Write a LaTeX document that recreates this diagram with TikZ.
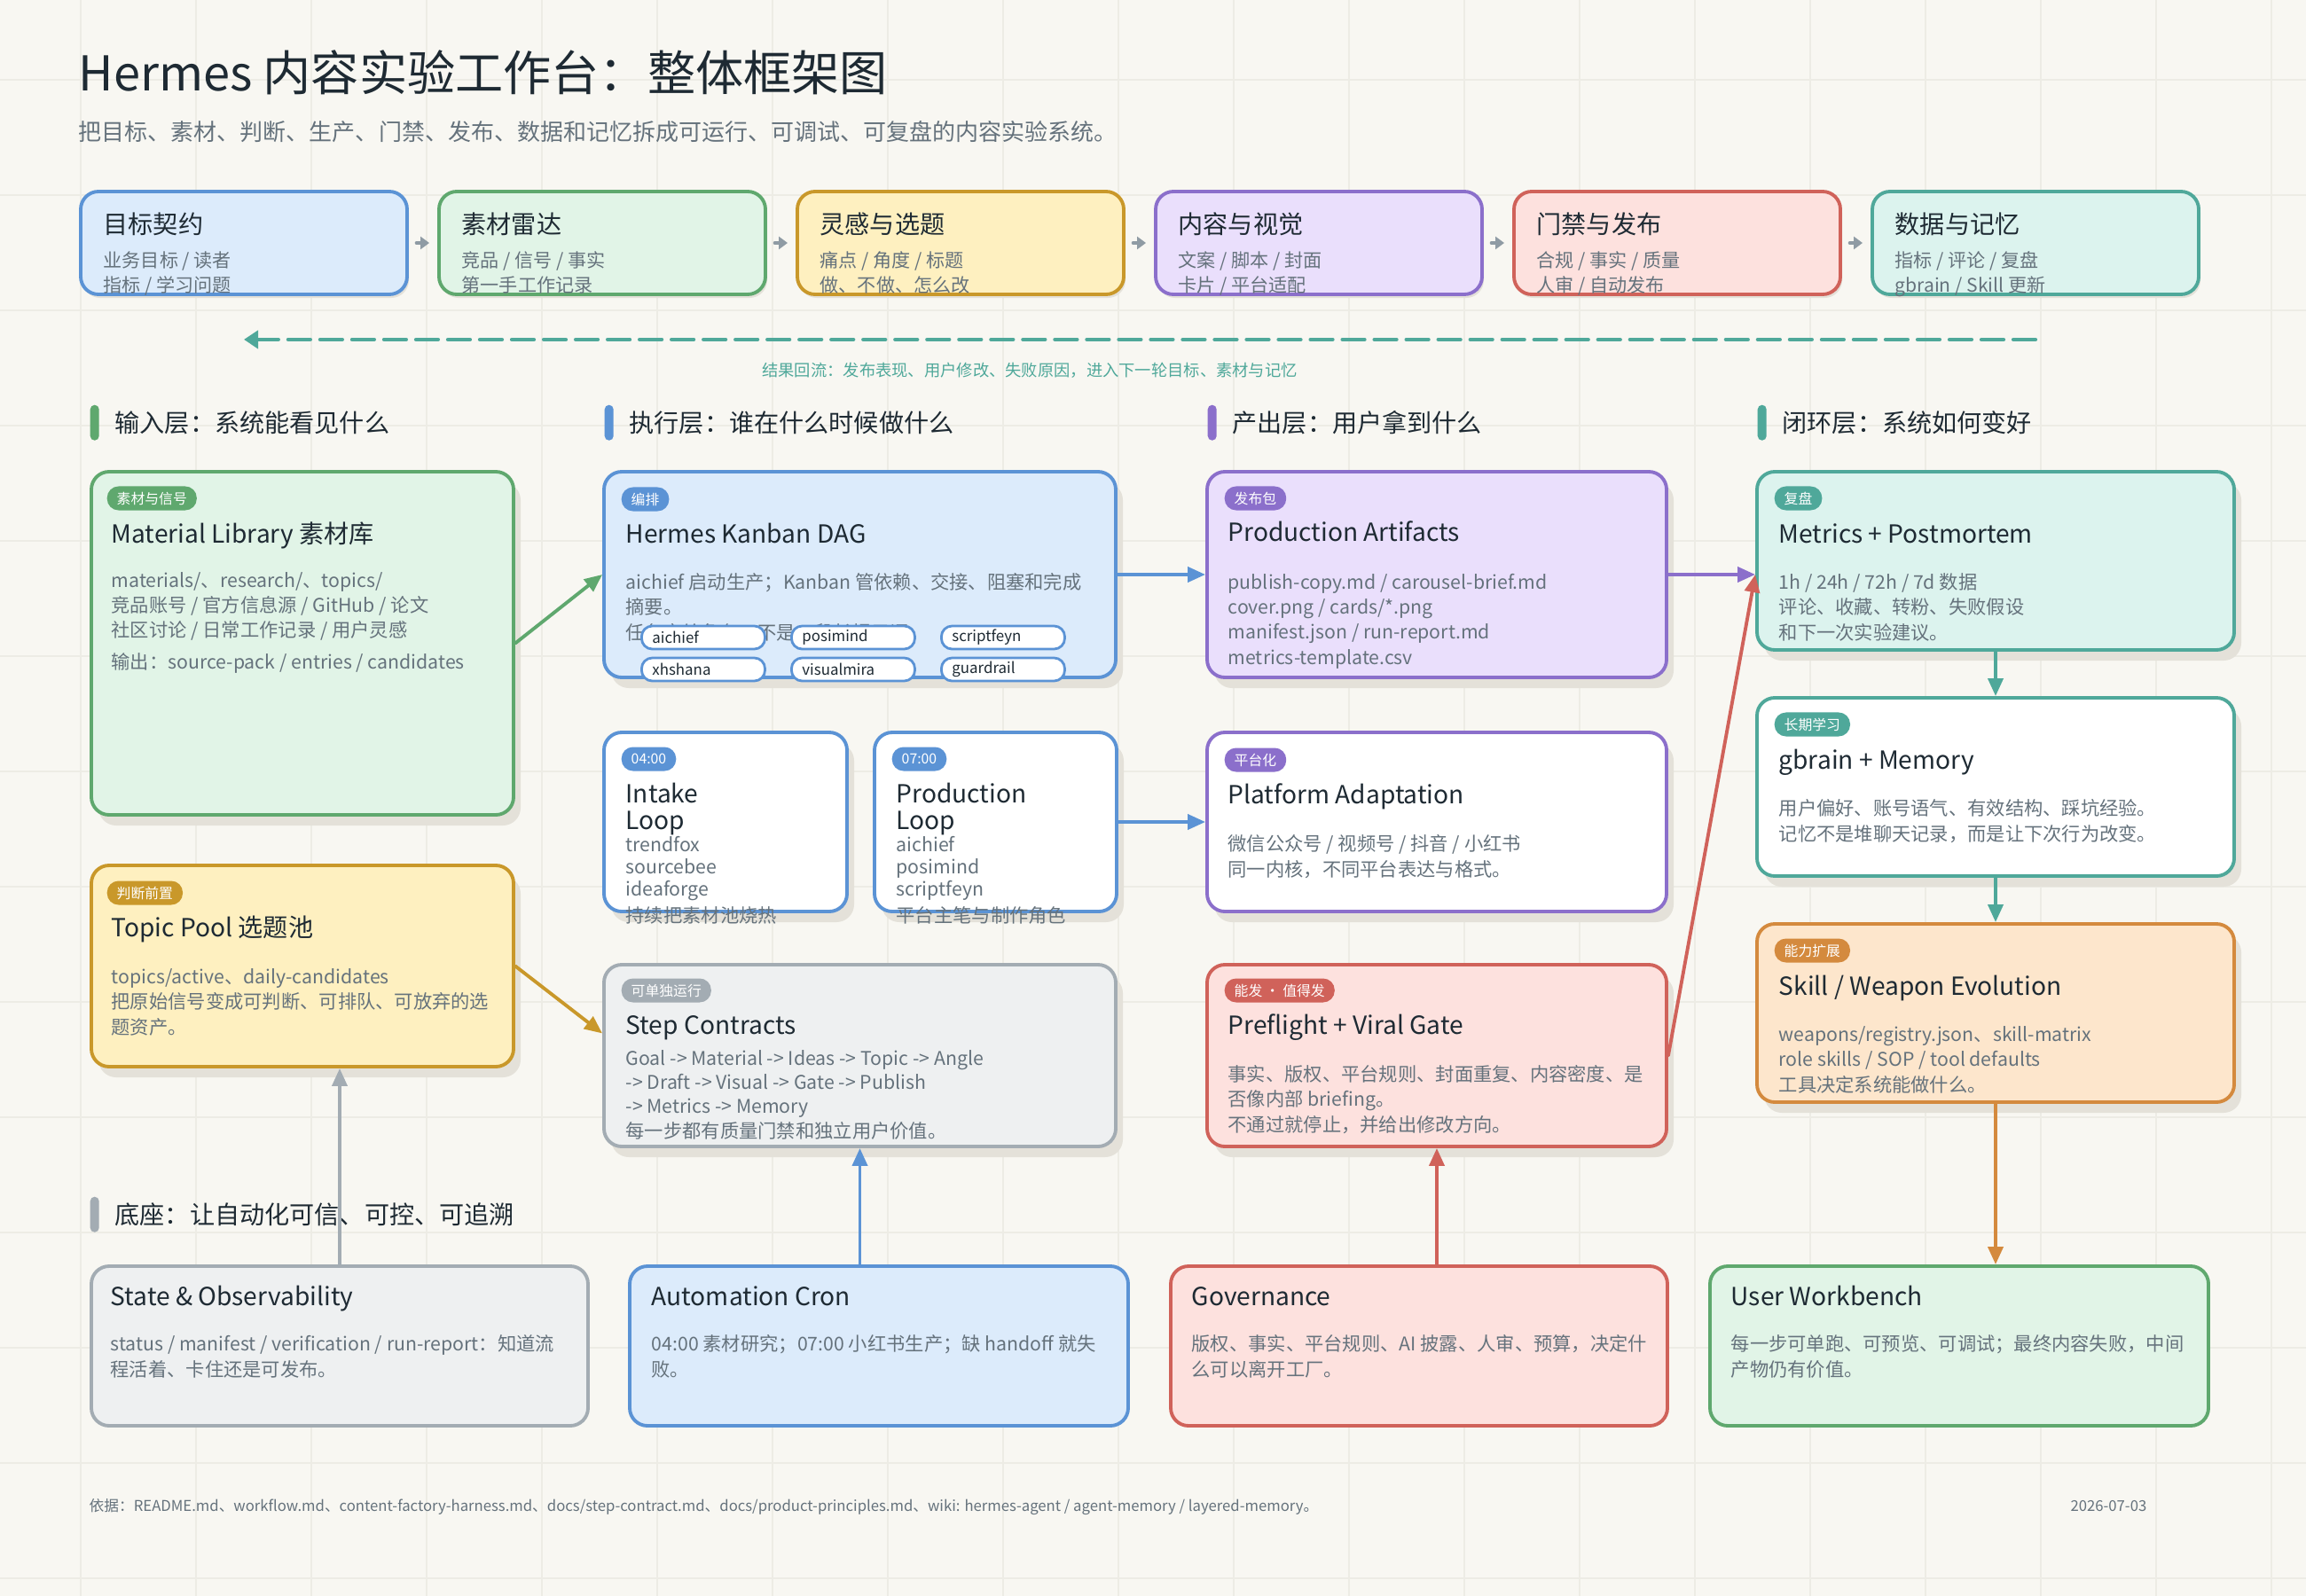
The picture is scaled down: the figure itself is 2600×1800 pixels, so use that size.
\documentclass[tikz,border=0pt]{standalone}
\usepackage{fontspec}
\setmainfont{Noto Sans CJK SC}
\usetikzlibrary{positioning, calc, fit, shadows, arrows.meta}

\definecolor{paper}{HTML}{F8F7F2}
\definecolor{gridc}{HTML}{EDECE5}
\definecolor{shade}{HTML}{E4E1D9}
\definecolor{ink}{HTML}{1E2A33}
\definecolor{muted}{HTML}{65727C}
\definecolor{hopgray}{HTML}{8F9BA4}
% colori per livello: linea / riempimento
\definecolor{blueL}{HTML}{5B93D5}\definecolor{blueF}{HTML}{DCEBFB}
\definecolor{greenL}{HTML}{5FA86E}\definecolor{greenF}{HTML}{E1F4E7}
\definecolor{yellowL}{HTML}{C9982A}\definecolor{yellowF}{HTML}{FEF0C0}
\definecolor{purpleL}{HTML}{8B6FCB}\definecolor{purpleF}{HTML}{EADFFC}
\definecolor{redL}{HTML}{D0625A}\definecolor{redF}{HTML}{FDE1DE}
\definecolor{tealL}{HTML}{4FA89A}\definecolor{tealF}{HTML}{DCF3EE}
\definecolor{orangeL}{HTML}{D48A3E}\definecolor{orangeF}{HTML}{FDE6CC}
\definecolor{grayL}{HTML}{A3ACB3}\definecolor{grayF}{HTML}{EEF0F1}

\tikzset{
  card/.style={rounded corners=0.2cm, line width=1.1pt, inner sep=0pt},
  raised/.style={general shadow={draw=none, fill=shade, shadow xshift=0.08cm, shadow yshift=-0.12cm}},
  lifted/.style={general shadow={draw=none, fill=shade, shadow xshift=0.02cm, shadow yshift=-0.04cm}},
  tag/.style={fill=#1, rounded corners=0.13cm, text=white, font=\fontsize{4.5}{5}\selectfont,
    inner xsep=0.11cm, inner ysep=0pt, minimum height=0.27cm, anchor=west},
  tag/.default=grayL,
  % nodi a piu' righe: la base e' quella dell'ultima riga
  ttl/.style={text=ink, font=\fontsize{8}{8.3}\selectfont, anchor=base west, inner sep=0pt, align=left},
  txt/.style={text=muted, font=\fontsize{6.05}{8}\selectfont, anchor=base west, inner sep=0pt, align=left},
  toptxt/.style={txt, font=\fontsize{6}{7.7}\selectfont},
  chip/.style={draw=blueL, fill=white, line width=0.8pt, rounded corners=0.12cm, text=ink,
    font=\fontsize{4.8}{5}\selectfont, text width=1.15cm, align=left, inner xsep=0.12cm,
    inner ysep=0pt, minimum height=0.26cm, anchor=west},
  layer/.style={text=ink, font=\fontsize{8}{9}\selectfont, anchor=base west, inner sep=0pt},
  layerbar/.style={fill=#1, rounded corners=0.05cm, minimum width=0.1cm, minimum height=0.4cm,
    inner sep=0pt, anchor=north west},
  layerbar/.default=grayL,
  link/.style={line width=1.1pt, -{Triangle[length=0.2cm, width=0.17cm]}},
  hop/.style={hopgray, line width=1.3pt, shorten <=0.09cm, shorten >=0.09cm,
    -{Triangle[length=0.1cm, width=0.14cm]}},
  gridline/.style={gridc, line width=0.5pt},
}

\begin{document}
\begin{tikzpicture}[x=0.01cm, y=-0.01cm, line cap=round]
  % fondo e griglia
  \fill[paper] (0,0) rectangle (2600,1800);
  \useasboundingbox (0,0) rectangle (2600,1800);
  \foreach \gx in {91,221,...,2600} \draw[gridline] (\gx,0) -- (\gx,1800);
  \foreach \gy in {90,220,...,1800} \draw[gridline] (0,\gy) -- (2600,\gy);

  % titolo
  \node[anchor=base west, inner sep=0pt, text=ink, font=\fontsize{15.4}{16}\selectfont] (title) at (88,103) {Hermes 内容实验工作台：整体框架图};
  \node[anchor=base west, inner sep=0pt, text=muted, font=\fontsize{7.4}{8}\selectfont] (subtitle) at (88,159) {把目标、素材、判断、生产、门禁、发布、数据和记忆拆成可运行、可调试、可复盘的内容实验系统。};

  % riga in alto: sei fasi
  \node[card, lifted, draw=blueL, fill=blueF, fit={(91,216)(459,332)}] (goal) {};
  \node[ttl] (goalttl) at (116,264) {目标契约};
  \node[toptxt] (goaltxt) at (116,329) {业务目标 / 读者\\指标 / 学习问题};
  \node[card, lifted, draw=greenL, fill=greenF, fit={(495,216)(863,332)}] (radar) {};
  \node[ttl] (radarttl) at (520,264) {素材雷达};
  \node[toptxt] (radartxt) at (520,329) {竞品 / 信号 / 事实\\第一手工作记录};
  \node[card, lifted, draw=yellowL, fill=yellowF, fit={(899,216)(1267,332)}] (idea) {};
  \node[ttl] (ideattl) at (924,264) {灵感与选题};
  \node[toptxt] (ideatxt) at (924,329) {痛点 / 角度 / 标题\\做、不做、怎么改};
  \node[card, lifted, draw=purpleL, fill=purpleF, fit={(1303,216)(1671,332)}] (visual) {};
  \node[ttl] (visualttl) at (1328,264) {内容与视觉};
  \node[toptxt] (visualtxt) at (1328,329) {文案 / 脚本 / 封面\\卡片 / 平台适配};
  \node[card, lifted, draw=redL, fill=redF, fit={(1707,216)(2075,332)}] (release) {};
  \node[ttl] (releasettl) at (1732,264) {门禁与发布};
  \node[toptxt] (releasetxt) at (1732,329) {合规 / 事实 / 质量\\人审 / 自动发布};
  \node[card, lifted, draw=tealL, fill=tealF, fit={(2111,216)(2479,332)}] (data) {};
  \node[ttl] (datattl) at (2136,264) {数据与记忆};
  \node[toptxt] (datatxt) at (2136,329) {指标 / 评论 / 复盘\\gbrain / Skill 更新};
  \foreach \a/\b in {goal/radar, radar/idea, idea/visual, visual/release, release/data}
    \draw[hop] (\a.east) -- (\b.west);

  % freccia di ritorno
  \coordinate (fbfrom) at ($(data.south)+(0,49)$);
  \coordinate (fbto) at ($(goal.south)+(0,49)$);
  \draw[tealL, line width=1.2pt, dash pattern=on 0.25cm off 0.11cm, -{Triangle[length=0.16cm, width=0.2cm]}] (fbfrom) -- (fbto);
  \node[text=tealL, font=\fontsize{5.2}{6}\selectfont, inner sep=0pt] (fblabel) at (1161,418) {结果回流：发布表现、用户修改、失败原因，进入下一轮目标、素材与记忆};

  % intestazioni dei livelli
  \node[layerbar=greenL] (inbar) at (101,456) {};
  \node[layer] (inlabel) at (129,487) {输入层：系统能看见什么};
  \node[layerbar=blueL] (runbar) at (681,456) {};
  \node[layer] (runlabel) at (709,487) {执行层：谁在什么时候做什么};
  \node[layerbar=purpleL] (outbar) at (1361,456) {};
  \node[layer] (outlabel) at (1389,487) {产出层：用户拿到什么};
  \node[layerbar=tealL] (loopbar) at (1981,456) {};
  \node[layer] (looplabel) at (2009,487) {闭环层：系统如何变好};
  \node[layerbar=grayL] (basebar) at (101,1349) {};
  \node[layer] (baselabel) at (129,1380) {底座：让自动化可信、可控、可追溯};

  % colonna input
  \node[card, raised, draw=greenL, fill=greenF, fit={(103,532)(579,919)}] (matlib) {};
  \node[tag=greenL] (matlibtag) at (120,562) {素材与信号};
  \node[ttl] (matlibttl) at (125,612) {Material Library 素材库};
  \node[txt] (matlibtxt) at (125,754) {materials/、research/、topics/\\竞品账号 / 官方信息源 / GitHub / 论文\\社区讨论 / 日常工作记录 / 用户灵感\\[2pt]输出：source-pack / entries / candidates};

  \node[card, raised, draw=yellowL, fill=yellowF, fit={(103,976)(579,1203)}] (topic) {};
  \node[tag=yellowL] (topictag) at (120,1007) {判断前置};
  \node[ttl] (topicttl) at (125,1056) {Topic Pool 选题池};
  \node[txt] (topictxt) at (125,1166) {topics/active、daily-candidates\\把原始信号变成可判断、可排队、可放弃的选\\题资产。};

  % colonna esecuzione
  \node[card, raised, draw=blueL, fill=blueF, fit={(681,532)(1258,764)}] (kanban) {};
  \node[tag=blueL] (kanbantag) at (700,563) {编排};
  \node[ttl] (kanbanttl) at (705,612) {Hermes Kanban DAG};
  \node[txt] (kanbantxt) at (705,721) {aichief 启动生产；Kanban 管依赖、交接、阻塞和完成\\摘要。\\任务交给角色，不是一段长提示词。};
  \node[chip] (chipa) at (722,719) {aichief};
  \node[chip] (chipb) at (891,719) {posimind};
  \node[chip] (chipc) at (1060,719) {scriptfeyn};
  \node[chip] (chipd) at (722,755) {xhshana};
  \node[chip] (chipe) at (891,755) {visualmira};
  \node[chip] (chipf) at (1060,755) {guardrail};

  \node[card, raised, draw=blueL, fill=white, fit={(681,826)(955,1028)}] (intake) {};
  \node[tag=blueL] (intaketag) at (700,856) {04:00};
  \node[ttl] (intakettl) at (705,935) {Intake\\Loop};
  \node[txt, font=\fontsize{6.05}{7.1}\selectfont] (intaketxt) at (705,1040) {trendfox\\sourcebee\\ideaforge\\[1.4pt]持续把素材池烧热};

  \node[card, raised, draw=blueL, fill=white, fit={(986,826)(1259,1028)}] (prodloop) {};
  \node[tag=blueL] (prodlooptag) at (1005,856) {07:00};
  \node[ttl] (prodloopttl) at (1010,935) {Production\\Loop};
  \node[txt, font=\fontsize{6.05}{7.1}\selectfont] (prodlooptxt) at (1010,1040) {aichief\\posimind\\scriptfeyn\\[1.4pt]平台主笔与制作角色};

  \node[card, raised, draw=grayL, fill=grayF, fit={(681,1088)(1258,1293)}] (stepc) {};
  \node[tag=grayL] (stepctag) at (700,1117) {可单独运行};
  \node[ttl] (stepcttl) at (705,1166) {Step Contracts};
  \node[txt, font=\fontsize{6.05}{7.7}\selectfont] (stepctxt) at (705,1283) {Goal -> Material -> Ideas -> Topic -> Angle\\-> Draft -> Visual -> Gate -> Publish\\-> Metrics -> Memory\\每一步都有质量门禁和独立用户价值。};

  % colonna output
  \node[card, raised, draw=purpleL, fill=purpleF, fit={(1361,532)(1879,764)}] (artifacts) {};
  \node[tag=purpleL] (artifactstag) at (1380,562) {发布包};
  \node[ttl] (artifactsttl) at (1384,610) {Production Artifacts};
  \node[txt] (artifactstxt) at (1384,749) {publish-copy.md / carousel-brief.md\\cover.png / cards/*.png\\manifest.json / run-report.md\\metrics-template.csv};

  \node[card, raised, draw=purpleL, fill=white, fit={(1361,826)(1879,1028)}] (platform) {};
  \node[tag=purpleL] (platformtag) at (1380,857) {平台化};
  \node[ttl] (platformttl) at (1384,906) {Platform Adaptation};
  \node[txt] (platformtxt) at (1384,988) {微信公众号 / 视频号 / 抖音 / 小红书\\同一内核，不同平台表达与格式。};

  \node[card, raised, draw=redL, fill=redF, fit={(1361,1088)(1879,1293)}] (gate) {};
  \node[tag=redL] (gatetag) at (1380,1117) {能发 · 值得发};
  \node[ttl] (gatettl) at (1384,1166) {Preflight + Viral Gate};
  \node[txt] (gatetxt) at (1384,1276) {事实、版权、平台规则、封面重复、内容密度、是\\否像内部 briefing。\\不通过就停止，并给出修改方向。};

  % colonna closed loop
  \node[card, raised, draw=tealL, fill=tealF, fit={(1981,532)(2519,733)}] (metrics) {};
  \node[tag=tealL] (metricstag) at (2000,562) {复盘};
  \node[ttl] (metricsttl) at (2005,612) {Metrics + Postmortem};
  \node[txt] (metricstxt) at (2005,721) {1h / 24h / 72h / 7d 数据\\评论、收藏、转粉、失败假设\\和下一次实验建议。};

  \node[card, raised, draw=tealL, fill=white, fit={(1981,787)(2519,988)}] (gbrain) {};
  \node[tag=tealL] (gbraintag) at (2000,817) {长期学习};
  \node[ttl] (gbrainttl) at (2005,867) {gbrain + Memory};
  \node[txt] (gbraintxt) at (2005,948) {用户偏好、账号语气、有效结构、踩坑经验。\\记忆不是堆聊天记录，而是让下次行为改变。};

  \node[card, raised, draw=orangeL, fill=orangeF, fit={(1981,1042)(2519,1243)}] (skill) {};
  \node[tag=orangeL] (skilltag) at (2000,1072) {能力扩展};
  \node[ttl] (skillttl) at (2005,1122) {Skill / Weapon Evolution};
  \node[txt] (skilltxt) at (2005,1231) {weapons/registry.json、skill-matrix\\role skills / SOP / tool defaults\\工具决定系统能做什么。};

  % base
  \node[card, draw=grayL, fill=grayF, fit={(103,1428)(663,1608)}] (state) {};
  \node[ttl] (statettl) at (124,1472) {State \& Observability};
  \node[txt, font=\fontsize{6.05}{8.2}\selectfont] (statetxt) at (124,1552) {status / manifest / verification / run-report：知道流\\程活着、卡住还是可发布。};
  \node[card, draw=blueL, fill=blueF, fit={(710,1428)(1272,1608)}] (cron) {};
  \node[ttl] (cronttl) at (734,1472) {Automation Cron};
  \node[txt, font=\fontsize{6.05}{8.2}\selectfont] (crontxt) at (734,1552) {04:00 素材研究；07:00 小红书生产；缺 handoff 就失\\败。};
  \node[card, draw=redL, fill=redF, fit={(1320,1428)(1880,1608)}] (gov) {};
  \node[ttl] (govttl) at (1343,1472) {Governance};
  \node[txt, font=\fontsize{6.05}{8.2}\selectfont] (govtxt) at (1343,1552) {版权、事实、平台规则、AI 披露、人审、预算，决定什\\么可以离开工厂。};
  \node[card, draw=greenL, fill=greenF, fit={(1928,1428)(2490,1608)}] (bench) {};
  \node[ttl] (benchttl) at (1951,1472) {User Workbench};
  \node[txt, font=\fontsize{6.05}{8.2}\selectfont] (benchtxt) at (1951,1552) {每一步可单跑、可预览、可调试；最终内容失败，中间\\产物仍有价值。};

  % collegamenti
  \draw[link, greenL] (matlib.east) -- (kanban.west);
  \draw[link, yellowL] (topic.east) -- ($(stepc.north west)!0.38!(stepc.south west)$);
  \draw[link, grayL] (state.north) -- (state.north |- topic.south);
  \draw[link, blueL] (stepc.south |- cron.north) -- (stepc.south);
  \draw[link, redL] (gate.south |- gov.north) -- (gate.south);
  \draw[link, orangeL] (skill.south) -- (skill.south |- bench.north);
  \draw[link, tealL] (metrics.south) -- (gbrain.north);
  \draw[link, tealL] (gbrain.south) -- (skill.north);
  \draw[link, blueL] (kanban.east) -- (artifacts.west);
  \draw[link, blueL] (prodloop.east) -- (platform.west);
  \coordinate (metin) at (artifacts.east -| metrics.west);
  \draw[link, purpleL] (artifacts.east) -- (metin);
  \draw[link, redL] (gate.east) -- (metin);

  % piede
  \node[anchor=base west, inner sep=0pt, text=muted, font=\fontsize{4.75}{5}\selectfont] (source) at (100,1704) {依据：README.md、workflow.md、content-factory-harness.md、docs/step-contract.md、docs/product-principles.md、wiki: hermes-agent / agent-memory / layered-memory。};
  \node[anchor=base east, inner sep=0pt, text=muted, font=\fontsize{4.75}{5}\selectfont] (date) at (2421,1704) {2026-07-03};
\end{tikzpicture}
\end{document}
